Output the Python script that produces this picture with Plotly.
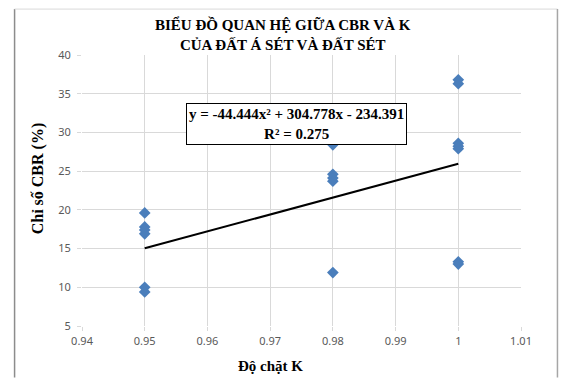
import plotly.graph_objects as go
import numpy as np

# Compaction coefficient K and CBR values (%)
k_095 = [0.95] * 6
cbr_095 = [19.6, 17.8, 17.4, 16.9, 10.0, 9.4]
k_098 = [0.98] * 5
cbr_098 = [28.4, 24.6, 24.1, 23.7, 11.9]
k_100 = [1.0] * 7
cbr_100 = [36.8, 36.3, 28.6, 28.2, 27.9, 13.3, 13.0]

k_values = k_095 + k_098 + k_100
cbr_values = cbr_095 + cbr_098 + cbr_100

# Polynomial trendline (order 2) coefficients and R²
coef_a, coef_b, coef_c = -44.444, 304.778, -234.391
r_squared = 0.275

x_ticks = [0.94, 0.95, 0.96, 0.97, 0.98, 0.99, 1.0, 1.01]
x_tick_text = ["0.94", "0.95", "0.96", "0.97", "0.98", "0.99", "1", "1.01"]
y_ticks = [5, 10, 15, 20, 25, 30, 35, 40]

W, H = 563, 378
L, R, T, B = 81.5, 42, 55, 51.5
PW, PH = W - L - R, H - T - B


def px(x):
    return (x - L) / PW


def py(y):
    return (H - B - y) / PH


serif = "Liberation Serif, Times New Roman, serif"
sans = "Noto Sans, Open Sans, sans-serif"

fig = go.Figure()

trend_x = np.linspace(min(k_values), max(k_values), 60)
trend_y = coef_a * trend_x ** 2 + coef_b * trend_x + coef_c
fig.add_trace(go.Scatter(
    x=trend_x, y=trend_y, mode="lines",
    line=dict(color="black", width=2), hoverinfo="skip", showlegend=False,
))

fig.add_trace(go.Scatter(
    x=k_values, y=cbr_values, mode="markers",
    marker=dict(symbol="diamond", size=9, color="#4A7EBB", line=dict(width=0)),
    showlegend=False,
))

grid = "#D9D9D9"
fig.update_layout(
    width=W, height=H,
    margin=dict(l=L, r=R, t=T, b=B),
    paper_bgcolor="white", plot_bgcolor="white",
    xaxis=dict(
        range=[0.94, 1.01], tickvals=x_ticks, ticktext=x_tick_text,
        showgrid=True, gridcolor=grid, gridwidth=1, zeroline=False,
        showline=False, ticks="outside", ticklen=4, tickcolor=grid,
        tickfont=dict(family=sans, size=11, color="#595959"),
        ticklabelstandoff=1,
    ),
    yaxis=dict(
        range=[5, 40], tickvals=y_ticks,
        showgrid=True, gridcolor=grid, gridwidth=1, zeroline=False,
        showline=False, ticks="outside", ticklen=4, tickcolor=grid,
        tickfont=dict(family=sans, size=11, color="#595959"),
        ticklabelstandoff=4,
    ),
)


def label(text, x, y, size, **kw):
    return dict(text=text, x=px(x), y=py(y), xref="paper", yref="paper",
                xanchor="center", yanchor="middle", showarrow=False,
                font=dict(family=serif, size=size, color="black"), **kw)


annotations = [
    label("<b>BIỂU ĐỒ QUAN HỆ GIỮA CBR VÀ K</b><br><b>CỦA ĐẤT Á SÉT VÀ ĐẤT SÉT</b>",
          283, 34, 15, align="center"),
    label("<b>Chỉ số CBR (%)</b>", 37, 179, 16, textangle=-90),
    label("<b>Độ chặt K</b>", 270, 367, 15),
    label(f"<b>y = {coef_a:.3f}x² + {coef_b:.3f}x - {abs(coef_c):.3f}<br>R² = {r_squared:.3f}</b>",
          296, 124, 15, align="center", bgcolor="white", bordercolor="black",
          borderwidth=1, borderpad=2),
]
fig.update_layout(annotations=annotations)

# Chart area frame
frame = [
    dict(x0=px(14), x1=px(14), y0=py(9), y1=py(378), color="#8C8C8C", w=1.5),
    dict(x0=px(14), x1=px(557.5), y0=py(9), y1=py(9), color="#D9D9D9", w=1),
    dict(x0=px(557.5), x1=px(557.5), y0=py(9), y1=py(378), color="#A6A6A6", w=1.5),
]
for f in frame:
    fig.add_shape(type="line", xref="paper", yref="paper",
                  x0=f["x0"], x1=f["x1"], y0=f["y0"], y1=f["y1"],
                  line=dict(color=f["color"], width=f["w"]))

fig.write_html("out.html")
